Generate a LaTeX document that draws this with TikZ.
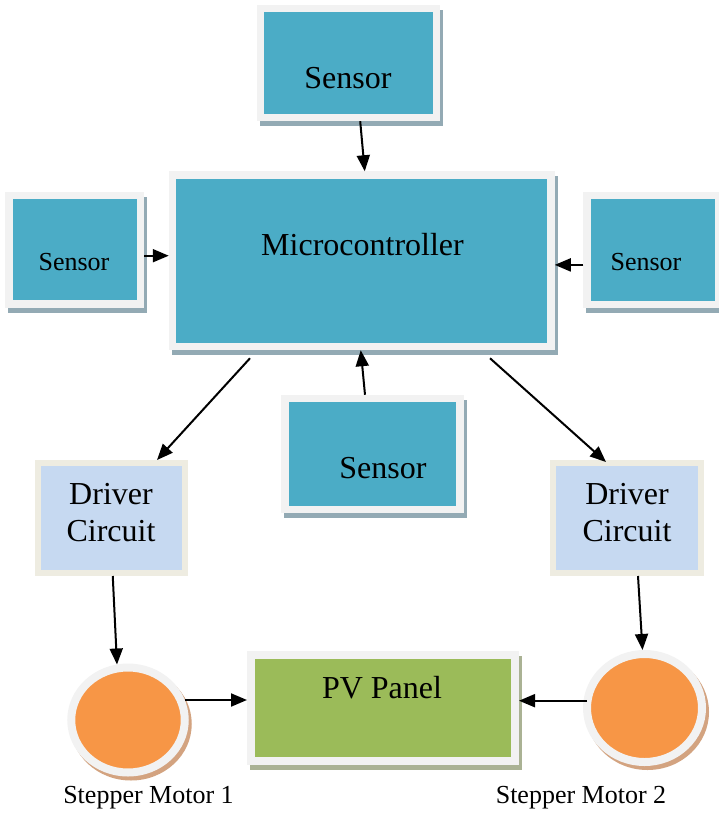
\documentclass[tikz,border=0pt]{standalone}
\usepackage{fontspec}
\setmainfont{Liberation Serif}
\usetikzlibrary{arrows.meta,shapes.geometric}
\pgfdeclarelayer{background}
\pgfsetlayers{background,main}
\definecolor{tealc}{HTML}{4BACC6}
\definecolor{framec}{HTML}{F2F2F2}
\definecolor{tshadow}{HTML}{93AAB4}
\definecolor{drvfill}{HTML}{C6D9F1}
\definecolor{drvframe}{HTML}{EEECE1}
\definecolor{orangec}{HTML}{F79646}
\definecolor{oshadow}{HTML}{D3A380}
\definecolor{greenc}{HTML}{9BBB59}
\definecolor{gshadow}{HTML}{AAB294}
\begin{document}
\begin{tikzpicture}[x=1pt,y=-1pt,
 blk/.style={rectangle, draw=framec, line width=7.5pt, outer sep=3.75pt, inner sep=0pt, fill=tealc},
 drv/.style={rectangle, draw=drvframe, line width=6pt, outer sep=3pt, inner sep=0pt, fill=drvfill, minimum width=147pt, minimum height=110pt},
 mot/.style={ellipse, draw=framec, line width=8pt, outer sep=4pt, inner sep=0pt, fill=orangec},
 big/.style={font=\fontsize{32}{37}\selectfont, inner sep=0pt, anchor=base},
 small/.style={font=\fontsize{26}{30}\selectfont, inner sep=0pt, anchor=base},
 arr/.style={-{Triangle[length=16pt,width=13pt]}, line width=2pt}]
\useasboundingbox (0,0) rectangle (719,813);
% boxes
\node[blk, minimum width=176pt, minimum height=109pt] (s1) at (348.7,63) {};
\node[blk, minimum width=131.5pt, minimum height=108.7pt] (s2) at (74.6,249.7) {};
\node[blk, minimum width=132pt, minimum height=109pt] (s3) at (653,249.9) {};
\node[blk, minimum width=175pt, minimum height=111pt] (s4) at (372.5,454) {};
\node[blk, minimum width=378.5pt, minimum height=171.5pt] (mc) at (361.75,260.75) {};
\node[drv] (d1) at (111.25,518) {};
\node[drv, minimum width=148pt] (d2) at (627,518) {};
\node[blk, fill=greenc, line width=8pt, outer sep=4pt, minimum width=264pt, minimum height=106pt] (pv) at (383,708) {};
\node[mot, minimum width=113.5pt, minimum height=105pt] (m1) at (128,720) {};
\node[mot, minimum width=115pt, minimum height=108pt] (m2) at (644.5,708) {};
% shadows
\begin{pgfonlayer}{background}
 \foreach \n in {s1,s2,s3,s4,mc}
   \fill[tshadow] ([shift={(3,5)}]\n.north west) rectangle ([shift={(3,5)}]\n.south east);
 \fill[gshadow] ([shift={(3,5)}]pv.north west) rectangle ([shift={(3,5)}]pv.south east);
 \fill[oshadow] ([shift={(3,4)}]m1.center) ellipse [x radius=60.75, y radius=56.5];
 \fill[oshadow] ([shift={(3,4)}]m2.center) ellipse [x radius=61.5, y radius=58];
\end{pgfonlayer}
% texts
\node[big] (t1) at (348,89) {Sensor};
\node[small] (t2) at (74,270) {Sensor};
\node[small] (t3) at (646,270) {Sensor};
\node[big] (t4) at (383,478) {Sensor};
\node[big] (tm) at (362.5,255) {Microcontroller};
\node[big] (td1a) at (111,504) {Driver};
\node[big] (td1b) at (111,541) {Circuit};
\node[big] (td2a) at (627,504) {Driver};
\node[big] (td2b) at (627,541) {Circuit};
\node[big] (tpv) at (382,698) {PV Panel};
\node[small] (l1) at (148.5,803) {Stepper Motor 1};
\node[small] (l2) at (581,803) {Stepper Motor 2};
% connectors
\coordinate (a2) at ([shift={(0,6)}]s2.east);
\coordinate (a3) at ([shift={(0,15)}]s3.west);
\coordinate (a5) at ([shift={(57,-20)}]m1.center);
\coordinate (a6) at ([shift={(-57.5,-7.3)}]m2.center);
\draw[arr] ([shift={(11.5,0)}]s1.south) -- ([shift={(3,0)}]mc.north);
\draw[arr] (a2) -- (a2 -| mc.west);
\draw[arr] (a3) -- (a3 -| mc.east);
\draw[arr] ([shift={(-7.5,0)}]s4.north) -- ([shift={(-1,0)}]mc.south);
\draw[arr] ([shift={(-111.75,8)}]mc.south) -- ([shift={(45.75,0)}]d1.north);
\draw[arr] ([shift={(128.25,8)}]mc.south) -- ([shift={(-21,2)}]d2.north);
\draw[arr] ([shift={(1.5,0)}]d1.south) -- ([shift={(-11,1)}]m1.north);
\draw[arr] ([shift={(11,0)}]d2.south) -- ([shift={(-2,0)}]m2.north);
\draw[arr] (a5) -- (a5 -| pv.west);
\draw[arr] (a6) -- (a6 -| pv.east);
\end{tikzpicture}
\end{document}
